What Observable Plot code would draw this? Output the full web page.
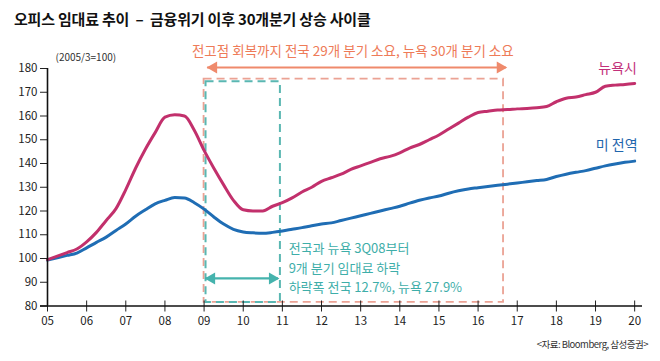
<!DOCTYPE html>
<html><head><meta charset="utf-8">
<script src="https://cdn.jsdelivr.net/npm/d3@7"></script>
<script src="https://cdn.jsdelivr.net/npm/@observablehq/plot@0.6"></script>
<style>
body{margin:0;background:#fff;font-family:"Noto Sans CJK KR",sans-serif;}
#title{height:34px;box-sizing:border-box;padding:8px 0 0 14px;font-weight:bold;font-size:15px;line-height:21px;color:#111;white-space:nowrap;letter-spacing:-0.2px;}
#caption{height:27px;text-align:right;padding-right:12px;font-size:9.5px;line-height:20px;letter-spacing:-0.5px;color:#333;}
</style></head><body>
<div id="title">오피스 임대료 추이 &nbsp;–&nbsp; 금융위기 이후 30개분기 상승 사이클</div>
<div id="chart"></div>
<div id="caption">&lt;자료: Bloomberg, 삼성증권&gt;</div>
<script>
// Quarterly index, 2005Q1 = 100 (2005Q1 .. 2020Q1)
const startYear = 2005;
const nyValues = [
  99.5, 101, 102.5, 104,
  107, 111, 116, 121,
  129, 138, 146, 153,
  159.5, 160.5, 160, 154,
  145.5, 138, 131, 124.5,
  120.5, 120, 120, 122,
  123.5, 125.5, 128, 130,
  132.5, 134, 135.5, 137.5,
  139, 140.5, 142, 143,
  144.5, 146.5, 148, 150,
  152, 154.5, 157, 159.5,
  161.5, 162, 162.5, 162.7,
  163, 163.2, 163.5, 164,
  166, 167.5, 168, 169,
  170, 172.5, 173, 173.3,
  173.7
];
const usValues = [
  99.3, 100.3, 101.3, 102.3,
  104.5, 106.8, 109, 111.8,
  114.5, 117.8, 120.5, 123,
  124.5, 125.7, 125.5, 123.5,
  120.8, 117.5, 114.5, 112.3,
  111.2, 110.8, 110.6, 111,
  111.6, 112.3, 113, 113.8,
  114.5, 115, 116, 117,
  118, 119, 120, 121,
  122, 123.3, 124.5, 125.5,
  126.3, 127.5, 128.5, 129.3,
  129.8, 130.3, 130.8, 131.3,
  131.8, 132.3, 132.8, 133.3,
  134.5, 135.5, 136.3, 137,
  138, 139, 139.8, 140.5,
  141
];
const seriesNames = ["뉴욕시", "미 전역"];
const xTicks = d3.range(2005, 2021);
const yTicks = d3.range(80, 181, 10);
const unitLabel = "(2005/3=100)";
const recoveryNote = "전고점 회복까지 전국 29개 분기 소요, 뉴욕 30개 분기 소요";
const declineNote = "전국과 뉴욕 3Q08부터\n9개 분기 임대료 하락\n하락폭 전국 12.7%, 뉴욕 27.9%";
// annotation periods (years) and index levels
const recoveryPeriod = {x1: 2009.0, x2: 2016.65, y1: 81.5, y2: 175.5, arrowY: 180.4, ax1: 2009.09, ax2: 2016.72};
const declinePeriod = {x1: 2009.05, x2: 2010.95, y1: 81.5, y2: 174.4, arrowY: 91.6, ax1: 2009.04, ax2: 2010.9};

const ny = nyValues.map((v, i) => ({t: startYear + i / 4, v, s: seriesNames[0]}));
const us = usValues.map((v, i) => ({t: startYear + i / 4, v, s: seriesNames[1]}));

const NYC = "#c2306c", USC = "#1f6db4", SALMON = "#ee7b58", SALMON_L = "#eba294", TEAL = "#3eaea9";

const chart = Plot.plot({
  width: 660, height: 300,
  marginTop: 34, marginBottom: 28.5, marginLeft: 47, marginRight: 18,
  x: {domain: [2005, 2020.2]},
  y: {domain: [80, 180]},
  style: {fontFamily: "'Noto Sans CJK KR', sans-serif", fontSize: "11.5px", color: "#222", background: "#fff"},
  marks: [
    // annotation boxes
    Plot.rect([recoveryPeriod], {x1: "x1", x2: "x2", y1: "y1", y2: "y2", fill: "none", stroke: SALMON_L, strokeWidth: 1.8, strokeDasharray: "8,5"}),
    Plot.rect([declinePeriod], {x1: "x1", x2: "x2", y1: "y1", y2: "y2", fill: "none", stroke: "#5ab7b2", strokeWidth: 2, strokeDasharray: "8,5"}),
    // arrows
    Plot.ruleY([recoveryPeriod], {y: "arrowY", x1: "ax1", x2: "ax2", stroke: "#ef8a6c", strokeWidth: 2}),
    Plot.dot([recoveryPeriod], {x: "ax1", y: "arrowY", symbol: "triangle", rotate: -90, r: 4.5, fill: "#ef8a6c", dx: 6}),
    Plot.dot([recoveryPeriod], {x: "ax2", y: "arrowY", symbol: "triangle", rotate: 90, r: 4.5, fill: "#ef8a6c", dx: -6}),
    Plot.ruleY([declinePeriod], {y: "arrowY", x1: "ax1", x2: "ax2", stroke: "#45b3ad", strokeWidth: 2.2}),
    Plot.dot([declinePeriod], {x: "ax1", y: "arrowY", symbol: "triangle", rotate: -90, r: 4.5, fill: "#45b3ad", dx: 6}),
    Plot.dot([declinePeriod], {x: "ax2", y: "arrowY", symbol: "triangle", rotate: 90, r: 4.5, fill: "#45b3ad", dx: -6}),
    // lines
    Plot.line(us, {x: "t", y: "v", stroke: USC, strokeWidth: 3, curve: "monotone-x"}),
    Plot.line(ny, {x: "t", y: "v", stroke: NYC, strokeWidth: 3, curve: "monotone-x"}),
    // series labels
    Plot.text(ny, Plot.selectLast({x: "t", y: "v", text: "s", fill: "#c2307a", fontSize: 14, dx: -17, dy: -15})),
    Plot.text(us, Plot.selectLast({x: "t", y: "v", text: "s", fill: "#1f66ad", fontSize: 14, dx: -18, dy: -16})),
    // notes
    Plot.text([recoveryNote], {x: () => 2012.8, y: () => 187.2, text: d => d, fill: SALMON, fontSize: 13.5}),
    Plot.text([declineNote], {x: () => 2011.16, y: () => 96.7, text: d => d, fill: TEAL, fontSize: 13, textAnchor: "start", lineAnchor: "middle", lineHeight: 1.48}),
    Plot.text([unitLabel], {frameAnchor: "top-left", text: d => d, dx: 8, dy: -15, fontSize: 10, fill: "#333"}),
    // axes
    Plot.axisY({ticks: yTicks, tickSize: 7, tickPadding: 3, label: null, fontSize: 11.5}),
    Plot.axisX({ticks: xTicks, tickSize: 11, dy: -5, tickFormat: () => "", label: null}),
    Plot.axisX({ticks: xTicks, tickSize: 0, tickPadding: 11, tickFormat: d => String(d % 100).padStart(2, "0"), label: null, fontSize: 11.5}),
    Plot.ruleX([2005], {stroke: "#111", strokeWidth: 1.6}),
    Plot.ruleY([80], {stroke: "#111", strokeWidth: 1.6, insetLeft: -7})
  ]
});
document.getElementById("chart").appendChild(chart);
</script>
</body></html>
